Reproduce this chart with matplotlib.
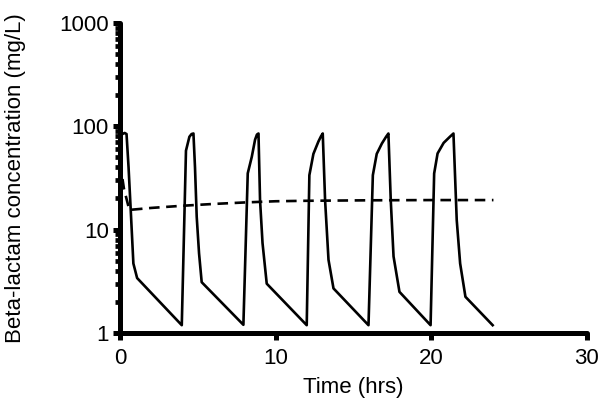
import matplotlib
matplotlib.use('Agg')
import matplotlib.pyplot as plt
from matplotlib.ticker import FixedLocator, LogLocator, NullFormatter

plt.rcParams['font.family'] = ['Liberation Sans', 'DejaVu Sans']

# intermittent dosing (solid)
time_bolus = [0, 0.15, 0.3, 0.42, 0.55, 0.69, 0.86, 1.1, 3.97,
              4.24, 4.46, 4.6, 4.72, 4.82, 4.93, 5.08, 5.25, 7.93,
              8.21, 8.47, 8.68, 8.8, 8.9, 9.0, 9.16, 9.43, 12.0,
              12.17, 12.43, 12.75, 12.92, 13.03, 13.18, 13.4, 13.72, 15.97,
              16.25, 16.5, 16.83, 17.1, 17.25, 17.4, 17.58, 17.96, 19.96,
              20.19, 20.41, 20.8, 21.2, 21.43, 21.64, 21.86, 22.2, 23.95]
conc_bolus = [78, 84, 86, 84, 40, 15.4, 4.7, 3.4, 1.19,
              58, 79, 84, 85, 40, 13.3, 5.9, 3.1, 1.2,
              35, 50.6, 74, 83, 85, 19.3, 7.4, 3.0, 1.19,
              33.6, 54, 71, 80, 85, 19.3, 5.1, 2.7, 1.19,
              33.6, 54, 68, 79, 85, 19.3, 5.5, 2.5, 1.19,
              34.9, 54.5, 69, 79, 85, 12.4, 4.7, 2.24, 1.19]

# continuous infusion (dashed)
time_infusion = [0, 0.25, 0.6, 2, 4, 6, 8, 10, 12, 16, 20, 24]
conc_infusion = [45, 25, 15.5, 16.2, 17.0, 17.7, 18.3, 18.8, 19.0, 19.2, 19.3, 19.3]

xticks = [0, 10, 20, 30]
yticks = [1, 10, 100, 1000]

fig = plt.figure(figsize=(6, 4), dpi=100)
ax = fig.add_axes([0.2, 0.1675, 0.778, 0.7755])

ax.plot(time_bolus, conc_bolus, color='black', lw=1.9, solid_joinstyle='round')
ax.plot(time_infusion, conc_infusion, color='black', lw=1.9, linestyle=(0, (4, 2.5)))

ax.set_yscale('log')
ax.set_xlim(0, 30)
ax.set_ylim(1, 1000)
ax.xaxis.set_major_locator(FixedLocator(xticks))
ax.yaxis.set_major_locator(FixedLocator(yticks))
ax.set_yticklabels([str(v) for v in yticks])
ax.yaxis.set_minor_locator(LogLocator(base=10, subs=range(2, 10)))
ax.yaxis.set_minor_formatter(NullFormatter())

for s in ['top', 'right']:
    ax.spines[s].set_visible(False)
for s in ['left', 'bottom']:
    ax.spines[s].set_linewidth(3.6)
    ax.spines[s].set_capstyle('round')

ax.tick_params(axis='both', which='major', length=5, width=3.6, labelsize=16, direction='out')
ax.tick_params(axis='x', which='major', pad=5.5)
ax.tick_params(axis='y', which='major', pad=3)
ax.tick_params(axis='y', which='minor', length=3.5, width=3.4, direction='out')

ax.set_xlabel('Time (hrs)', fontsize=16, labelpad=6)
ax.set_ylabel('Beta-lactam concentration (mg/L)', fontsize=16, labelpad=24)

fig.savefig('out.png', dpi=100)
